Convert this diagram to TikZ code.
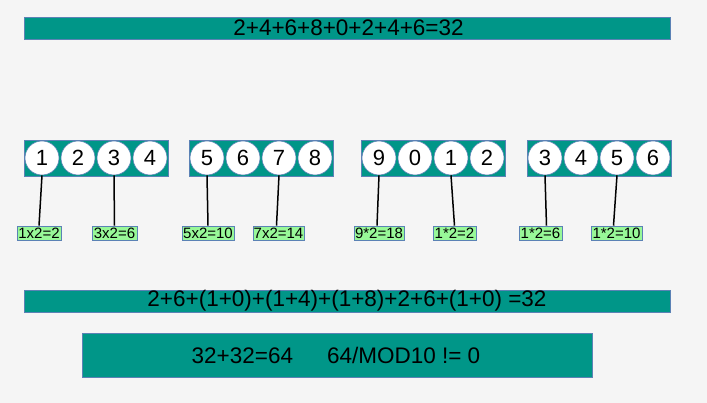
\documentclass[tikz,border=0pt]{standalone}
\usepackage{fontspec}
\setmainfont{Liberation Sans}
\definecolor{bg}{HTML}{F5F5F5}
\definecolor{teal1}{HTML}{009688}
\definecolor{edge1}{HTML}{5B82B5}
\definecolor{lab}{HTML}{98F898}
\begin{document}
\begin{tikzpicture}[x=1pt,y=-1pt,
  bar/.style={draw=edge1,line width=0.6pt,fill=teal1,inner sep=0pt},
  digit/.style={circle,draw=edge1,line width=0.6pt,fill=white,minimum size=34pt,inner sep=0pt,font=\fontsize{22}{26}\selectfont},
  lbl/.style={draw=edge1,line width=0.6pt,fill=lab,inner sep=0pt,minimum height=14pt,font=\fontsize{15}{16}\selectfont},
  conn/.style={draw=black,line width=1.5pt},
  big/.style={font=\fontsize{22.5}{26}\selectfont}]
\fill[bg] (0,0) rectangle (707,403);
\useasboundingbox (0,0) rectangle (707,403);
% top bar
\node[bar,minimum width=646pt,minimum height=22pt] (top) at (347,28) {};
\node[big] (toptxt) at (348.5,28) {2+4+6+8+0+2+4+6=32};
% groups
\foreach \g/\x in {1/24,2/189,3/361,4/527}{
  \node[bar,minimum width=144pt,minimum height=36pt] (g\g) at (\x+72,158) {};
}
\foreach \n/\x/\t in {a1/42/1,a2/78/2,a3/114/3,a4/150/4,
  b1/207/5,b2/243/6,b3/279/7,b4/315/8,
  c1/379/9,c2/415/0,c3/451/1,c4/487/2,
  d1/545/3,d2/581/4,d3/617/5,d4/653/6}{
  \node[digit] (\n) at (\x,158) {\t};
}
% labels
\node[lbl,minimum width=44pt] (la1) at (39,233) {1x2=2};
\node[lbl,minimum width=45pt] (la3) at (114.5,233) {3x2=6};
\node[lbl,minimum width=52pt] (lb1) at (208,233) {5x2=10};
\node[lbl,minimum width=51pt] (lb3) at (278.5,233) {7x2=14};
\node[lbl,minimum width=50pt] (lc1) at (379,233) {9*2=18};
\node[lbl,minimum width=43pt] (lc3) at (454.5,233) {1*2=2};
\node[lbl,minimum width=43pt] (ld1) at (540.5,233) {1*2=6};
\node[lbl,minimum width=51pt] (ld3) at (616.5,233) {1*2=10};
\draw[conn] (a1.south) -- (la1.north);
\draw[conn] (a3.south) -- (la3.north);
\draw[conn] (b1.south) -- (lb1.north);
\draw[conn] (b3.south) -- ([xshift=-2pt]lb3.north);
\draw[conn] (c1.south) -- ([xshift=-2pt]lc1.north);
\draw[conn] (c3.south) -- (lc3.north);
\draw[conn] (d1.south) -- ([xshift=6pt]ld1.north);
\draw[conn] (d3.south) -- ([xshift=-3pt]ld3.north);
% bottom bars
\node[bar,minimum width=646pt,minimum height=22pt] (sum) at (347,301) {};
\node[big] (sumtxt) at (347,301) {2+6+(1+0)+(1+4)+(1+8)+2+6+(1+0) =32};
\node[bar,minimum width=510pt,minimum height=44pt] (res) at (337,355) {};
\node[big] (restxt) at (336,355) {32+32=64\hspace{34pt}64/MOD10 != 0};
\end{tikzpicture}
\end{document}
